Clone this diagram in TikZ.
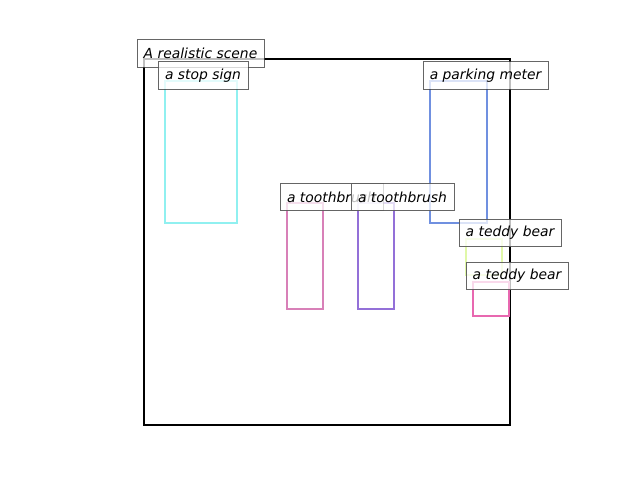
\documentclass[tikz,border=0pt]{standalone}
\usepackage{fontspec}
\setmainfont{DejaVu Sans}
\definecolor{cstop}{HTML}{90F0F0}
\definecolor{cpark}{HTML}{7090E0}
\definecolor{ctb}{HTML}{D880B8}
\definecolor{ctbb}{HTML}{9370D8}
\definecolor{cted}{HTML}{E0F8A8}
\definecolor{cteb}{HTML}{E868B0}
\tikzset{
  lbl/.style={draw=black!75, fill=white, fill opacity=0.75, draw opacity=0.8, text opacity=1,
    line width=0.75pt, rectangle, inner sep=0pt, minimum height=20.5pt,
    font=\fontsize{10.4}{12}\selectfont\itshape},
  box/.style={line width=1.9pt},
}
\begin{document}
\begin{tikzpicture}[x=0.75pt,y=-0.75pt]
\useasboundingbox (0,0) rectangle (640,480);
% main frame
\draw[line width=1.6pt] (144,59) rectangle (510,425);
% object boxes
\draw[box, cstop] (165,81) rectangle (237,223);
\draw[box, cpark] (430,81) rectangle (487,223);
\draw[box, ctb] (287,203) rectangle (323,309);
\draw[box, ctbb] (358,203) rectangle (394,309);
\draw[box, cted] (466,239) rectangle (502,275);
\draw[box, cteb] (473,282) rectangle (509,316);
% labels
\node[lbl, minimum width=95.25pt] (scene) at (200.5,53.5) {A realistic scene};
\node[lbl, minimum width=67.5pt] (stop) at (203,75.5) {a stop sign};
\node[lbl, minimum width=93.75pt] (park) at (485.5,75.5) {a parking meter};
\node[lbl, minimum width=77.25pt] (tb1) at (331.5,197) {a toothbrush};
\node[lbl, minimum width=77.25pt] (tb2) at (402.5,197) {a toothbrush};
\node[lbl, minimum width=76.5pt] (ted1) at (510,233) {a teddy bear};
\node[lbl, minimum width=76.5pt] (ted2) at (517,276) {a teddy bear};
\end{tikzpicture}
\end{document}
